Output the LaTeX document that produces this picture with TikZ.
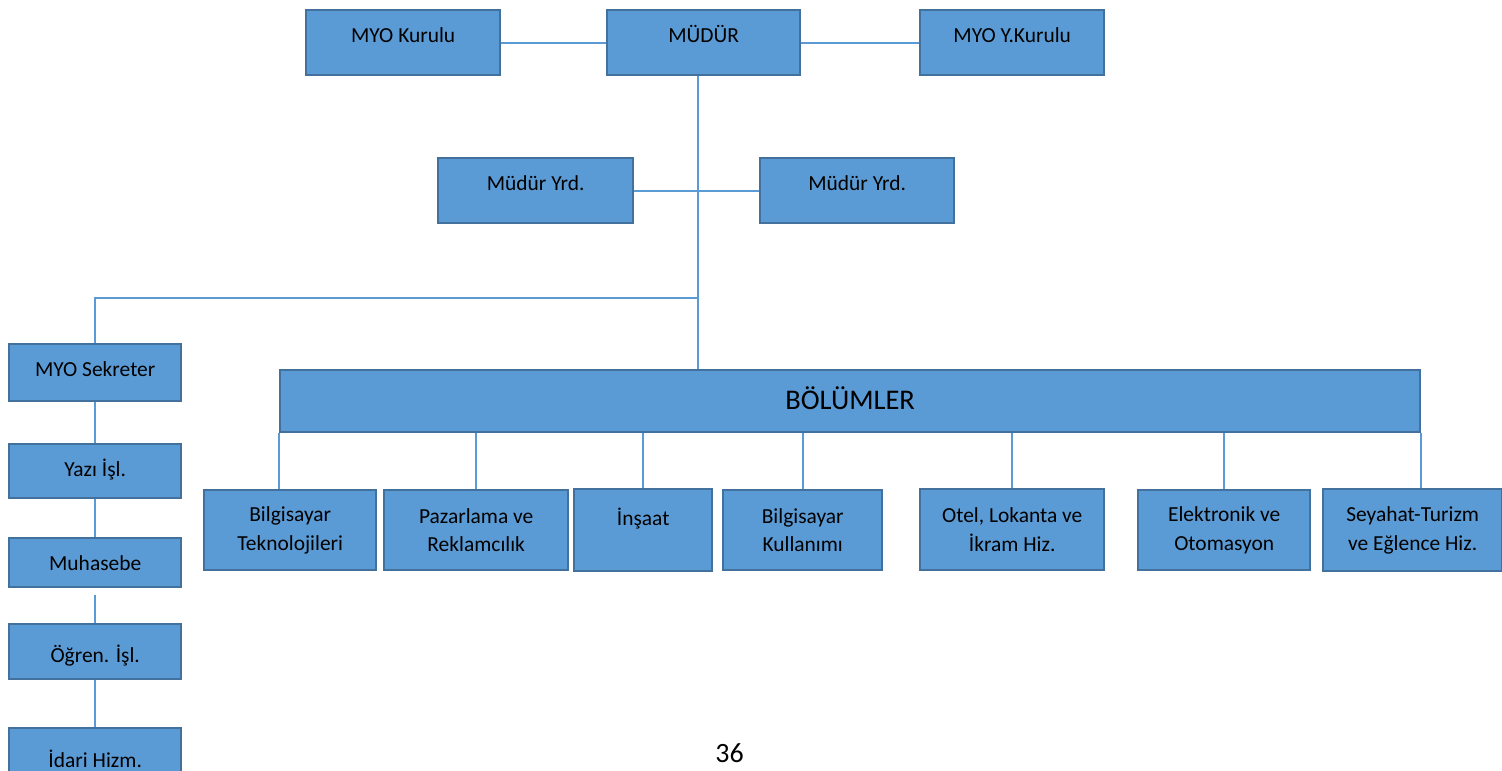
\documentclass[tikz,border=0pt]{standalone}
\usepackage{fontspec}
\setmainfont{Carlito}
\usepackage{xcolor}
\usepackage{tikz}
\definecolor{boxFill}{HTML}{5B9BD5}
\definecolor{boxEdge}{HTML}{41719C}
\definecolor{lineBlue}{HTML}{5B9BD5}
\tikzset{
	unit/.style={draw=boxEdge, fill=boxFill, line width=1.4pt, inner sep=0pt, align=center, font=\fontsize{12.2}{16.2}\selectfont},
	drop/.style={text height=#1, text depth=0pt},
	lift/.style={text height=0pt, text depth=#1},
	link/.style={draw=lineBlue, line width=0.9pt}
}
\newcommand{\orgBox}[7][]{
	\node[below right, unit, minimum width=#5, minimum height=#6, #1] (#2) at (#3, #4) {#7};
}

\begin{document}
\begin{tikzpicture}[x=0.02cm, y=-0.02cm]%
		\useasboundingbox (0,0) rectangle (1502,771);
		\clip (0,0) rectangle (1502,771);

		% top row
		\orgBox[drop=0pt]{kurul}{305}{9}{3.88cm}{1.30cm}{MYO Kurulu}
		\orgBox[drop=0pt]{mudur}{606}{9}{3.86cm}{1.30cm}{MÜDÜR}
		\orgBox[drop=0pt]{ykurul}{919}{9}{3.68cm}{1.30cm}{MYO Y.Kurulu}

		% deputies
		\orgBox[drop=0pt]{yrdA}{437}{157}{3.90cm}{1.30cm}{Müdür Yrd.}
		\orgBox[drop=0pt]{yrdB}{759}{157}{3.88cm}{1.30cm}{Müdür Yrd.}

		% secretary column
		\orgBox[drop=0.16cm]{sek}{8}{343}{3.44cm}{1.14cm}{MYO Sekreter}
		\orgBox[drop=0.20cm]{yazi}{8}{443}{3.44cm}{1.08cm}{Yazı İşl.}
		\orgBox[drop=0.32cm]{muh}{8}{537}{3.44cm}{0.98cm}{Muhasebe}
		\orgBox[drop=0.44cm]{ogr}{8}{623}{3.44cm}{1.10cm}{Öğren. İşl.}
		\orgBox[drop=0.12cm]{idari}{8}{727}{3.44cm}{1.46cm}{İdari Hizm.}

		% departments
		\orgBox[drop=0.32cm, font=\fontsize{16.2}{20}\selectfont]{bolum}{279}{369}{22.80cm}{1.24cm}{BÖLÜMLER}
		\orgBox{bt}{203}{489}{3.44cm}{1.60cm}{Bilgisayar\\Teknolojileri}
		\orgBox{pz}{383}{489}{3.68cm}{1.60cm}{Pazarlama ve\\Reklamcılık}
		\orgBox[lift=0.20cm]{ins}{573}{488}{2.76cm}{1.64cm}{İnşaat}
		\orgBox{bk}{722}{489}{3.18cm}{1.60cm}{Bilgisayar\\Kullanımı}
		\orgBox{otel}{919}{488}{3.68cm}{1.62cm}{Otel, Lokanta ve\\İkram Hiz.}
		\orgBox{elk}{1137}{489}{3.44cm}{1.60cm}{Elektronik ve\\Otomasyon}
		\orgBox{sey}{1322}{488}{3.58cm}{1.64cm}{Seyahat-Turizm\\ve Eğlence Hiz.}

		% lines
		\coordinate (trunk) at (698,298);
		\draw[link] (kurul.east) -- (mudur.west);
		\draw[link] (mudur.east) -- (ykurul.west);
		\draw[link] (mudur.south -| trunk) -- (bolum.north -| trunk);
		\draw[link] (yrdA.east) -- (yrdB.west);
		\draw[link] (trunk) -| (sek.north);

		\draw[link] (sek) -- (yazi);
		\draw[link] (yazi) -- (muh);
		\draw[link, shorten <=0.14cm] (muh) -- (ogr);
		\draw[link] (ogr) -- (idari);

		\draw[link] (bolum.south west) -- (bt.north -| bolum.south west);
		\draw[link] (pz.north |- bolum.south) -- (pz.north);
		\draw[link] (ins.north |- bolum.south) -- (ins.north);
		\draw[link] (bk.north |- bolum.south) -- (bk.north);
		\draw[link] (otel.north |- bolum.south) -- (otel.north);
		\draw[link] (elk.north |- bolum.south) -- (elk.north);
		\draw[link] (bolum.south east) -- (sey.north -| bolum.south east);

		% page number
		\node[font=\fontsize{15.9}{19}\selectfont, anchor=base, inner sep=0pt, text depth=0pt] (pnum) at (729.5,762) {36};
	\end{tikzpicture}
\end{document}
